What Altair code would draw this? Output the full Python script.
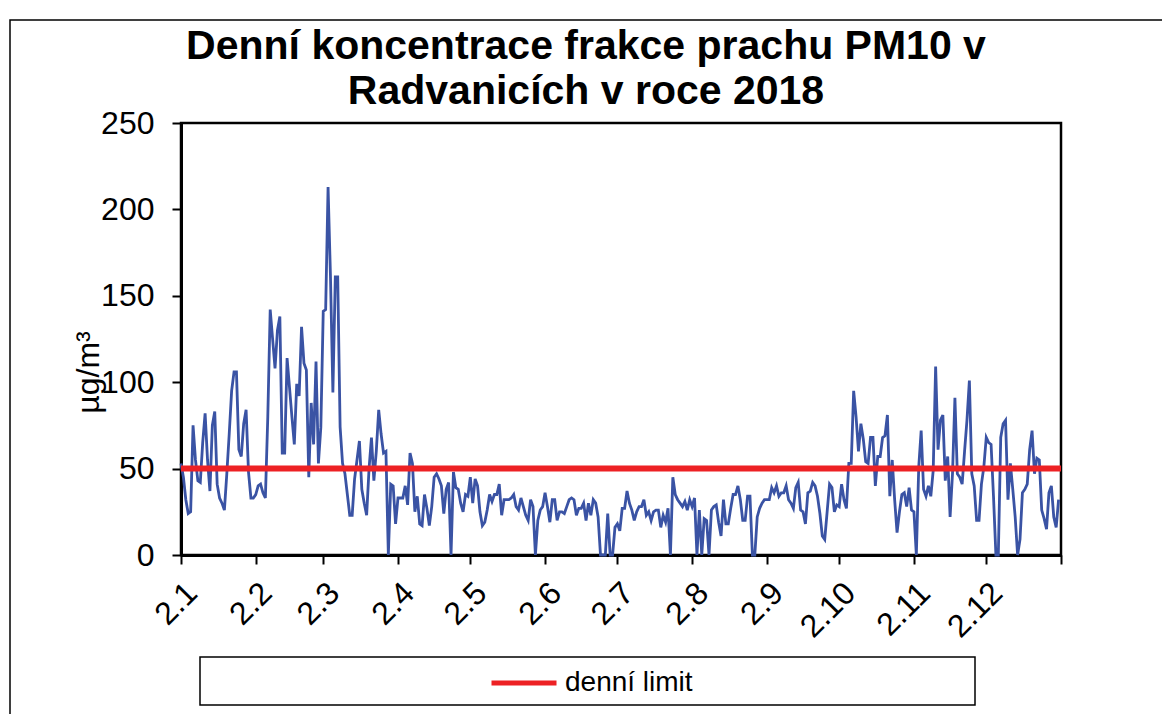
import altair as alt
import pandas as pd

title_lines = ["Denní koncentrace frakce prachu PM10 v", "Radvanicích v roce 2018"]
y_title = "µg/m³"
start_date = "2018-01-02"

# daily PM10 values (µg/m3), one per day from 2.1.2018
pm10 = [
    53, 45, 32, 24, 25, 75, 55, 43, 42, 65,
    82, 55, 37, 75, 83, 41, 33, 30, 26, 47,
    70, 95, 106, 106, 61, 57, 76, 84, 48, 33,
    33, 35, 40, 41, 36, 33, 80, 142, 125, 108,
    130, 138, 59, 59, 114, 97, 80, 64, 99, 92,
    132, 111, 107, 45, 88, 64, 112, 53, 74, 141,
    142, 213, 161, 94, 161, 161, 74, 53, 47, 35,
    23, 23, 44, 55, 66, 38, 30, 23, 50, 68,
    43, 60, 84, 70, 59, 60, 0, 41, 40, 18,
    33, 33, 33, 40, 29, 59, 53, 25, 34, 18,
    17, 35, 27, 17, 28, 45, 47, 44, 40, 24,
    38, 42, 0, 48, 39, 38, 30, 25, 35, 34,
    45, 30, 44, 40, 25, 17, 19, 26, 35, 31,
    35, 35, 41, 23, 32, 32, 32, 33, 35, 28,
    26, 33, 28, 23, 20, 32, 28, 0, 20, 26,
    28, 36, 28, 19, 32, 32, 20, 25, 25, 24,
    28, 32, 33, 32, 23, 27, 27, 30, 20, 30,
    23, 32, 30, 22, 0, 0, 0, 24, 0, 0,
    16, 18, 14, 27, 27, 37, 30, 26, 20, 25,
    28, 28, 32, 23, 25, 20, 25, 26, 26, 16,
    23, 19, 27, 0, 45, 35, 32, 30, 28, 31,
    26, 32, 28, 33, 0, 26, 0, 21, 20, 0,
    26, 28, 29, 19, 11, 32, 18, 18, 27, 35,
    35, 40, 32, 20, 20, 34, 34, 0, 0, 22,
    27, 30, 32, 32, 32, 39, 36, 40, 34, 36,
    36, 40, 32, 30, 27, 39, 42, 26, 25, 18,
    36, 37, 42, 40, 34, 24, 11, 9, 25, 41,
    39, 25, 29, 28, 41, 32, 27, 53, 53, 95,
    80, 60, 76, 67, 54, 53, 68, 68, 40, 57,
    57, 68, 69, 81, 34, 55, 32, 13, 25, 35,
    36, 28, 39, 26, 25, 0, 51, 72, 38, 34,
    40, 34, 49, 109, 61, 78, 81, 43, 57, 22,
    47, 91, 47, 45, 41, 60, 78, 101, 47, 40,
    20, 20, 41, 51, 68, 65, 64, 34, 0, 0,
    68, 76, 78, 32, 53, 38, 22, 0, 9, 36,
    38, 41, 61, 72, 47, 56, 55, 26, 21, 15,
    36, 40, 22, 16, 32,
]

limit_value = [50]
limit_label = ["denní limit"]

y_domain = [0, 250]
y_ticks = [0, 50, 100, 150, 200, 250]
tick_dates = [
    "2018-01-02", "2018-02-02", "2018-03-02", "2018-04-02", "2018-05-02",
    "2018-06-02", "2018-07-02", "2018-08-02", "2018-09-02", "2018-10-02",
    "2018-11-02", "2018-12-02", "2019-01-02",
]
tick_labels = ["2.1", "2.2", "2.3", "2.4", "2.5", "2.6", "2.7", "2.8",
               "2.9", "2.10", "2.11", "2.12", ""]

FONT = "Liberation Sans"
BLUE = "#3A53A4"
RED = "#ED2124"


def dt(s):
    y, m, d = (int(p) for p in s.split("-"))
    return alt.DateTime(year=y, month=m, date=d, utc=True)


dates = pd.date_range(start_date, periods=len(pm10), freq="D")
df = pd.DataFrame({"date": dates.strftime("%Y-%m-%d"), "pm10": pm10})
limit_df = pd.DataFrame({"value": limit_value, "series": limit_label})
one = pd.DataFrame({"k": [0]})

label_array = "[" + ",".join("'" + t + "'" for t in tick_labels) + "]"
label_expr = label_array + "[utcmonth(datum.value) + 12 * (utcyear(datum.value) - 2018)]"

y_scale = alt.Scale(domain=y_domain, nice=False, zero=True)

x_enc = alt.X(
    "date:T",
    scale=alt.Scale(type="utc", domain=[dt(tick_dates[0]), dt(tick_dates[-1])]),
    axis=alt.Axis(
        values=[dt(s) for s in tick_dates],
        labelExpr=label_expr,
        labelAngle=315,
        labelAlign="right",
        labelBaseline="top",
        labelFontSize=32,
        labelPadding=13,
        tickSize=9,
        tickWidth=2,
        domainWidth=3,
        grid=False,
        title=None,
        labelOverlap=False,
    ),
)
y_enc = alt.Y(
    "pm10:Q",
    scale=y_scale,
    axis=alt.Axis(
        values=y_ticks,
        labelFontSize=32,
        labelPadding=18,
        tickSize=9,
        tickWidth=2,
        domainWidth=3,
        grid=False,
        title=y_title,
        titleFontSize=32,
        titleFontWeight="normal",
        titleAngle=270,
        titleAlign="center",
        titleBaseline="middle",
        titleX=-93,
        titleY=249,
    ),
)

border = alt.Chart(one).mark_rect(
    fillOpacity=0, stroke="black", strokeWidth=1.5
).encode(x=alt.value(-171), x2=alt.value(1100), y=alt.value(-103), y2=alt.value(700))

legend_box = alt.Chart(one).mark_rect(
    fillOpacity=0, stroke="black", strokeWidth=1.5
).encode(x=alt.value(19), x2=alt.value(794), y=alt.value(534), y2=alt.value(582))

title_marks = [
    alt.Chart(pd.DataFrame({"t": [txt]})).mark_text(
        font=FONT, fontSize=41, fontWeight="bold", align="center",
        baseline="middle", color="black",
    ).encode(text="t:N", x=alt.value(405), y=alt.value(yy))
    for txt, yy in zip(title_lines, [-76, -31])
]

line = alt.Chart(df).mark_line(color=BLUE, strokeWidth=2.8).encode(x=x_enc, y=y_enc)

rule = alt.Chart(limit_df).mark_rule(strokeWidth=6).encode(
    y=alt.Y("value:Q", scale=y_scale),
    color=alt.Color(
        "series:N",
        scale=alt.Scale(domain=limit_label, range=[RED]),
        legend=alt.Legend(
            orient="none",
            legendX=308,
            legendY=525,
            title=None,
            symbolType="stroke",
            symbolSize=4225,
            symbolStrokeWidth=5,
            labelFontSize=28,
            labelFont=FONT,
            labelColor="black",
            labelOffset=6,
            padding=0,
        ),
    ),
)

chart = (
    alt.layer(border, legend_box, *title_marks, line, rule)
    .properties(
        width=880,
        height=432,
        autosize=alt.AutoSizeParams(type="none"),
        padding={"left": 173, "top": 115, "right": 101, "bottom": 159},
    )
    .configure(font=FONT, background="white")
    .configure_view(stroke="black", strokeWidth=2.5)
    .configure_axis(
        domainColor="black", tickColor="black", labelColor="black",
        titleColor="black", labelFont=FONT, titleFont=FONT,
    )
)

chart.save("out.html", embed_options={"renderer": "svg", "actions": False})
